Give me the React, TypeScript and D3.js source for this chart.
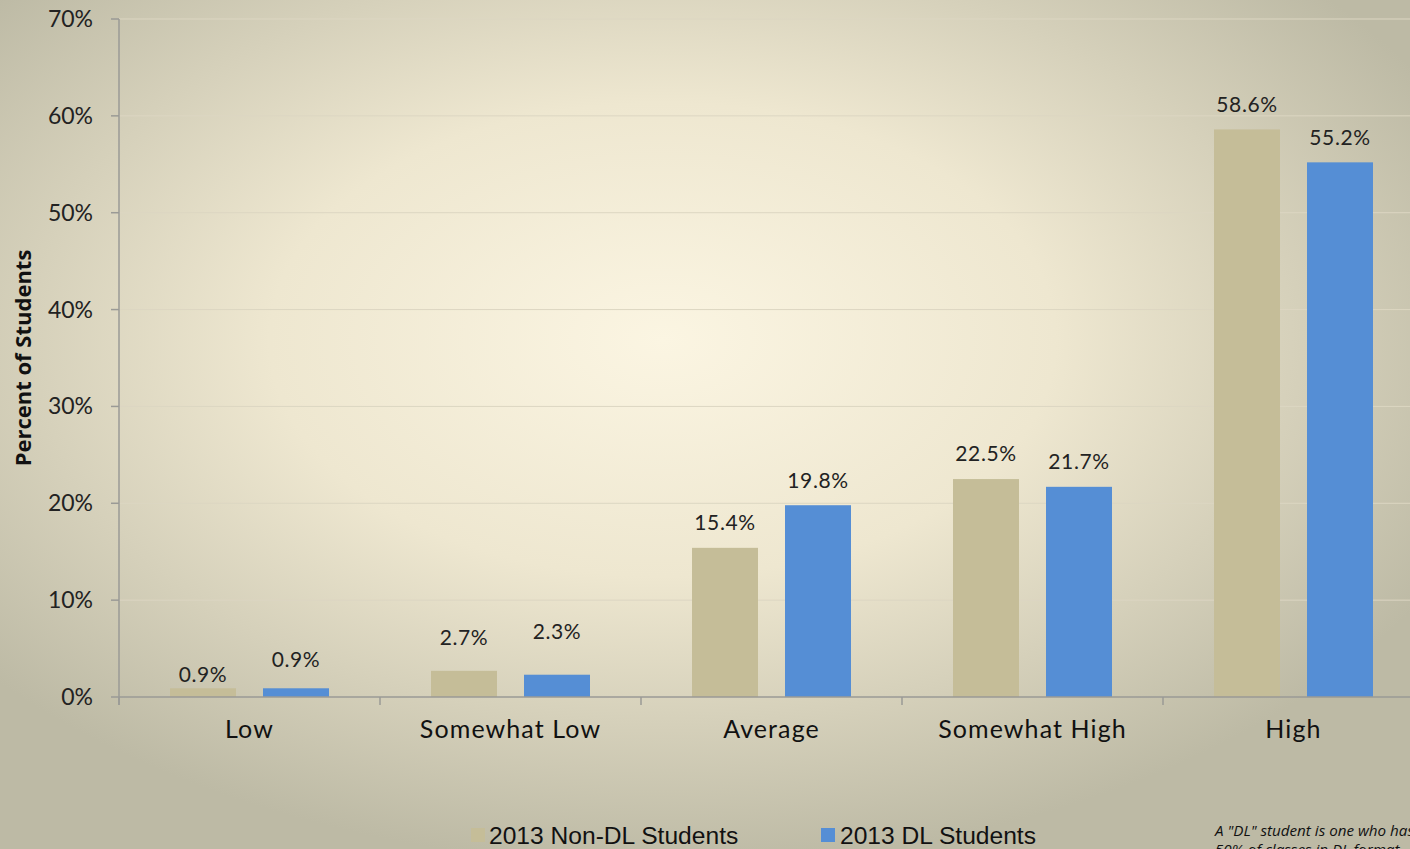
import React from "react";
import * as d3 from "d3";

const categories = ["Low", "Somewhat Low", "Average", "Somewhat High", "High"];
const nonDL = [0.9, 2.7, 15.4, 22.5, 58.6];
const dl = [0.9, 2.3, 19.8, 21.7, 55.2];
const yTicks = [0, 10, 20, 30, 40, 50, 60, 70];
const seriesNames = ["2013 Non-DL Students", "2013 DL Students"];
const footnote = ['A "DL" student is one who has', "50% of classes in DL format"];
// manual label nudges (px above default) as in the original
const nudgeNonDL = [-11, 8, 0, 0, 0];
const nudgeDL = [4, 18, 0, 0, 0];

const W = 1410;
const H = 849;
const left = 119;
const top = 19;
const bottom = 697;
const step = 261;
const colors = ["#C5BD98", "#558ED5"];

export default function App() {
  const x = d3
    .scaleBand<string>()
    .domain(categories)
    .range([left, left + step * categories.length])
    .paddingInner(0)
    .paddingOuter(0);
  const y = d3.scaleLinear().domain([0, 70]).range([bottom, top]);
  const barW = 66;
  const off0 = 51;
  const off1 = 144;
  const font = "Lato, 'Open Sans', sans-serif";

  return (
    <svg
      width={W}
      height={H}
      style={{ position: "absolute", left: 0, top: 0, display: "block" }}
    >
      <defs>
        <radialGradient id="bg" cx="0.47" cy="0.4" r="0.62" fx="0.47" fy="0.4">
          <stop offset="0" stopColor="#FBF5E2" />
          <stop offset="0.45" stopColor="#EEE7D0" />
          <stop offset="1" stopColor="#BDBAA5" />
        </radialGradient>
      </defs>
      <rect x={0} y={0} width={W} height={H} fill="url(#bg)" />

      {yTicks.map((t) => (
        <g key={t}>
          {t > 0 && (
            <line x1={left} x2={W} y1={y(t)} y2={y(t)} stroke="#DCD6C2" strokeWidth={1} />
          )}
          <line x1={left - 8} x2={left} y1={y(t)} y2={y(t)} stroke="#9A9A96" strokeWidth={1.5} />
          <text
            x={93}
            y={y(t)}
            dy="0.35em"
            textAnchor="end"
            fontFamily={font}
            fontSize={23}
            fill="#222"
          >
            {t}%
          </text>
        </g>
      ))}

      {categories.map((c, i) => {
        const x0 = x(c)!;
        return (
          <g key={c}>
            <rect x={x0 + off0} y={y(nonDL[i])} width={barW} height={bottom - y(nonDL[i])} fill={colors[0]} />
            <rect x={x0 + off1} y={y(dl[i])} width={barW} height={bottom - y(dl[i])} fill={colors[1]} />
            <text
              x={x0 + off0 + barW / 2}
              y={y(nonDL[i]) - 25 - nudgeNonDL[i]}
              dy="0.35em"
              textAnchor="middle"
              fontFamily={font}
              fontSize={21}
              letterSpacing={0.6}
              fill="#222"
            >
              {nonDL[i].toFixed(1)}%
            </text>
            <text
              x={x0 + off1 + barW / 2}
              y={y(dl[i]) - 25 - nudgeDL[i]}
              dy="0.35em"
              textAnchor="middle"
              fontFamily={font}
              fontSize={21}
              letterSpacing={0.6}
              fill="#222"
            >
              {dl[i].toFixed(1)}%
            </text>
            <text
              x={x0 + x.bandwidth() / 2}
              y={729}
              dy="0.35em"
              textAnchor="middle"
              fontFamily={font}
              fontSize={25}
              letterSpacing={1.1}
              fill="#111"
            >
              {c}
            </text>
          </g>
        );
      })}

      <line x1={left} x2={left} y1={top} y2={bottom + 8} stroke="#9A9A96" strokeWidth={1.5} />
      <line x1={left} x2={W} y1={bottom} y2={bottom} stroke="#9A9A96" strokeWidth={1.5} />
      {categories.map((c) => (
        <line key={c + "t"} x1={x(c)!} x2={x(c)!} y1={bottom} y2={bottom + 8} stroke="#9A9A96" strokeWidth={1.5} />
      ))}

      <text
        transform={`translate(31,358) rotate(-90)`}
        textAnchor="middle"
        fontFamily="'Open Sans', Lato, sans-serif"
        fontWeight="bold"
        fontSize={22}
        fill="#111"
      >
        Percent of Students
      </text>

      <g fontFamily="'Liberation Sans', Arial, sans-serif" fontSize={24.6} fill="#111">
        <rect x={471} y={828} width={14} height={14} fill={colors[0]} />
        <text x={489} y={844}>{seriesNames[0]}</text>
        <rect x={821} y={828} width={14} height={14} fill={colors[1]} />
        <text x={840} y={844}>{seriesNames[1]}</text>
      </g>

      <g fontFamily="'Open Sans', Lato, sans-serif" fontStyle="italic" fontSize={15.2} fill="#111">
        <text x={1215} y={836}>{footnote[0]}</text>
        <text x={1215} y={855}>{footnote[1]}</text>
      </g>
    </svg>
  );
}
